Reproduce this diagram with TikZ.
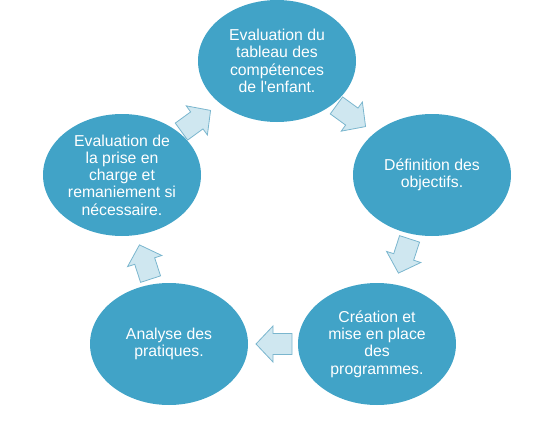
\documentclass[tikz,border=0pt]{standalone}
\usepackage{fontspec}
\setmainfont{Liberation Sans}
\usetikzlibrary{shapes.geometric}
\definecolor{ellfill}{RGB}{65,163,199}
\definecolor{arrfill}{RGB}{207,231,240}
\definecolor{arrline}{RGB}{122,182,206}
\tikzset{
  stagebox/.style={ellipse, fill=ellfill, draw=none, minimum width=158pt, minimum height=122pt,
    inner sep=0pt, align=center, text=white, font=\fontsize{15.8}{17.3}\selectfont},
  barrow/.pic={
    \draw[fill=arrfill, draw=arrline, line width=0.8pt, line join=miter]
      (-18,-10.5) -- (1,-10.5) -- (1,-18) -- (18,0) -- (1,18) -- (1,10.5) -- (-18,10.5) -- cycle;
  }
}
\begin{document}
\begin{tikzpicture}[x=1pt,y=-1pt]
\useasboundingbox (0,0) rectangle (558,423);
\node[stagebox] (T) at (277,61) {Evaluation du\\tableau des\\compétences\\de l\textquotesingle enfant.};
\node[stagebox] (R) at (432,175) {Définition des\\objectifs.};
\node[stagebox] (BR) at (377,344) {Création et\\mise en place\\des\\programmes.};
\node[stagebox] (BL) at (169,344) {Analyse des\\pratiques.};
\node[stagebox] (L) at (122,175) {Evaluation de\\la prise en\\charge et\\remaniement si\\nécessaire.};
\pic[rotate=36] at (196,121) {barrow};
\pic[rotate=-36] at (351,116) {barrow};
\pic[rotate=-108] at (404,256) {barrow};
\pic[rotate=180] at (274,344) {barrow};
\pic[rotate=108] at (145,262) {barrow};
\end{tikzpicture}
\end{document}
